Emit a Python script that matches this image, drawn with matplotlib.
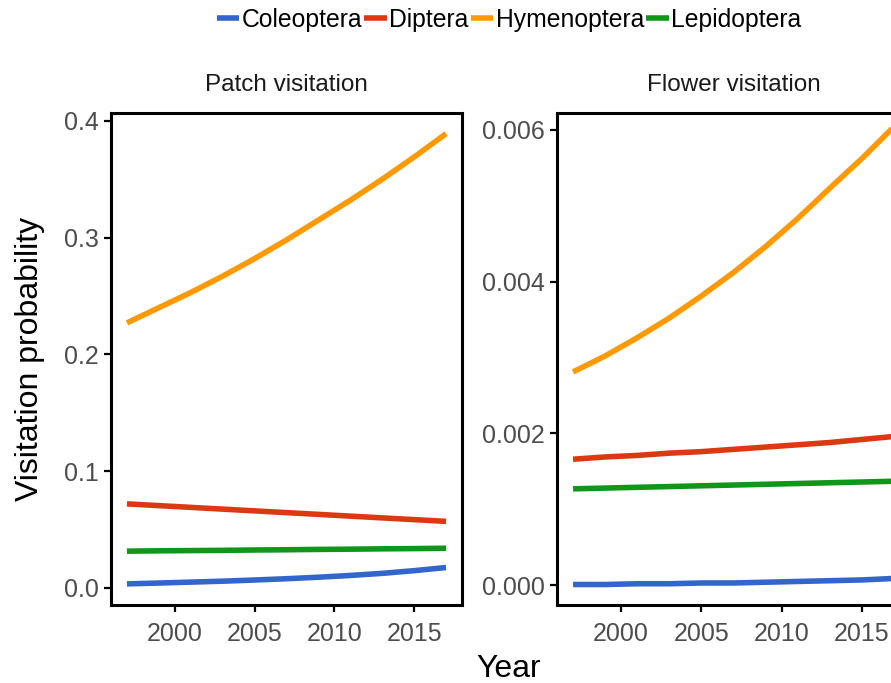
import matplotlib
matplotlib.use("Agg")
import matplotlib.pyplot as plt

plt.rcParams["font.family"] = ["Liberation Sans", "DejaVu Sans"]

YEARS = [1997, 1999, 2001, 2003, 2005, 2007, 2009, 2011, 2013, 2015, 2017]
ORDERS = ["Coleoptera", "Diptera", "Hymenoptera", "Lepidoptera"]
COLORS = ["#3366CC", "#DC3912", "#FF9900", "#109618"]

# predicted visitation probability per order, patch scale
PATCH = {
    "Coleoptera":  [0.0035, 0.0042, 0.0050, 0.0058, 0.0068, 0.0079, 0.0092, 0.0107, 0.0125, 0.0148, 0.0175],
    "Diptera":     [0.0720, 0.0705, 0.0690, 0.0675, 0.0660, 0.0645, 0.0630, 0.0615, 0.0600, 0.0585, 0.0570],
    "Hymenoptera": [0.227, 0.240, 0.253, 0.267, 0.282, 0.298, 0.315, 0.332, 0.350, 0.369, 0.389],
    "Lepidoptera": [0.0315, 0.0318, 0.0320, 0.0322, 0.0325, 0.0327, 0.0330, 0.0332, 0.0335, 0.0337, 0.0340],
}

# predicted visitation probability per order, flower scale
FLOWER = {
    "Coleoptera":  [0.00001, 0.00001, 0.00002, 0.00002, 0.00003, 0.00003, 0.00004, 0.00005, 0.00006, 0.00007, 0.00009],
    "Diptera":     [0.00166, 0.00169, 0.00171, 0.00174, 0.00176, 0.00179, 0.00182, 0.00185, 0.00188, 0.00192, 0.00196],
    "Hymenoptera": [0.00281, 0.00302, 0.00326, 0.00352, 0.00381, 0.00412, 0.00446, 0.00483, 0.00523, 0.00562, 0.00604],
    "Lepidoptera": [0.00127, 0.00128, 0.00129, 0.00130, 0.00131, 0.00132, 0.00133, 0.00134, 0.00135, 0.00136, 0.00137],
}

PANELS = [
    ("Patch visitation", PATCH, [0.0, 0.1, 0.2, 0.3, 0.4],
     ["0.0", "0.1", "0.2", "0.3", "0.4"], (-0.0146, 0.4067)),
    ("Flower visitation", FLOWER, [0.0, 0.002, 0.004, 0.006],
     ["0.000", "0.002", "0.004", "0.006"], (-0.00026, 0.00622)),
]
X_TICKS = [2000, 2005, 2010, 2015]

W, H = 891, 683
fig = plt.figure(figsize=(W / 100, H / 100), dpi=100)

# axes boxes in pixels: left, top, width, height (right panel runs past the edge)
boxes = [(111, 113, 351, 492), (557, 113, 353, 492)]

handles = []
for (title, data, yt, ytl, ylim), (l, t, w, h) in zip(PANELS, boxes):
    ax = fig.add_axes([l / W, 1 - (t + h) / H, w / W, h / H])
    for name, col in zip(ORDERS, COLORS):
        ln, = ax.plot(YEARS, data[name], color=col, lw=4.0,
                      solid_capstyle="butt", label=name)
        if len(handles) < len(ORDERS):
            handles.append(ln)
    ax.set_xlim(1996, 2018)
    ax.set_ylim(*ylim)
    ax.set_xticks(X_TICKS)
    ax.set_yticks(yt)
    ax.set_yticklabels(ytl)
    for sp in ax.spines.values():
        sp.set_linewidth(2.2)
        sp.set_color("black")
    ax.tick_params(direction="out", length=5, width=1.6, color="black",
                   labelcolor="#4D4D4D", labelsize=18, pad=4)
    ax.tick_params(axis="x", pad=7)
    ax.set_title(title, fontsize=17.5, color="#1A1A1A", pad=16)

fig.text(30 / W, 1 - 359 / H, "Visitation probability", rotation=90,
         ha="center", va="center", fontsize=23, color="black")
fig.text(509 / W, 1 - 669 / H, "Year", ha="center", va="center",
         fontsize=23, color="black")

fig.legend(handles, ORDERS, loc="center", bbox_to_anchor=(509 / W, 1 - 20 / H),
           ncol=4, frameon=False, fontsize=17.8, handlelength=0.9,
           handletextpad=0.1, columnspacing=0.1, borderaxespad=0)

fig.savefig("out.png", dpi=100, facecolor="white")
